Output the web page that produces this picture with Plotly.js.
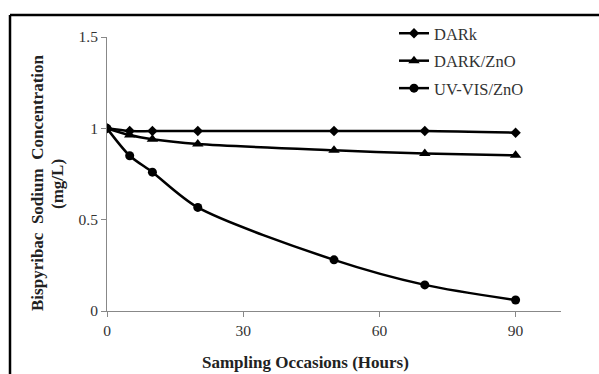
<!DOCTYPE html>
<html>
<head>
<meta charset="utf-8">
<script src="https://cdn.plot.ly/plotly-3.0.1.min.js"></script>
<style>html,body{margin:0;padding:0;background:#fff;}#chart{width:599px;height:374px;}</style>
</head>
<body>
<div id="chart"></div>
<script>
const hours = [0, 5, 10, 20, 50, 70, 90];
const dark = [1.0, 0.985, 0.985, 0.985, 0.985, 0.985, 0.976];
const darkZnO = [1.0, 0.963, 0.94, 0.914, 0.88, 0.862, 0.852];
const uvVisZnO = [1.0, 0.85, 0.76, 0.567, 0.28, 0.143, 0.06];
const seriesNames = ['DARk', 'DARK/ZnO', 'UV-VIS/ZnO'];
const xTicks = [0, 30, 60, 90];
const yTicks = [0, 0.5, 1, 1.5];
const yTickText = ['0', '0.5', '1', '1.5'];
const yTitleLines = ['Bispyribac\u00a0 Sodium\u00a0 Concentration', '(mg/L)'];
const xTitle = 'Sampling Occasions (Hours)';

const serif = '"Liberation Serif", "Times New Roman", serif';
const L = 107, R = 38, T = 37, B = 63, W = 599, H = 374;
const pw = W - L - R, ph = H - T - B;
const px = v => (v - L) / pw;
const py = v => (H - B - v) / ph;

const symbols = ['diamond', 'triangle-up', 'circle'];
const sizes = [8, 10, 9];
const data = [dark, darkZnO, uvVisZnO].map((ys, i) => ({
  x: hours, y: ys, name: seriesNames[i], type: 'scatter', mode: 'lines+markers',
  legendgroup: 'g' + i,
  line: {color: '#000', width: 2.5, shape: 'spline', smoothing: 0.8},
  marker: {symbol: symbols[i], size: sizes[i], color: '#000'}
}));

const titleFont = {family: serif, size: 17, color: '#222'};
const layout = {
  width: W, height: H,
  margin: {l: L, r: R, t: T, b: B},
  paper_bgcolor: '#fff', plot_bgcolor: '#fff',
  font: {family: serif, size: 16, color: '#000'},
  showlegend: true,
  legend: {x: px(394), y: py(16), xanchor: 'left', yanchor: 'top', bgcolor: 'rgba(0,0,0,0)',
           font: {family: serif, size: 16.5, color: '#333'}, traceorder: 'grouped', tracegroupgap: 3},
  xaxis: {range: [0, 100], tickvals: xTicks, ticktext: xTicks.map(String), showgrid: false, zeroline: false,
          showline: true, linecolor: '#888', linewidth: 1, ticks: 'outside', tickcolor: '#888', ticklen: 5,
          tickfont: {family: serif, size: 15.5, color: '#333'}},
  yaxis: {range: [0, 1.5], tickvals: yTicks, ticktext: yTickText, showgrid: false, zeroline: false,
          showline: true, linecolor: '#888', linewidth: 1, ticks: 'outside', tickcolor: '#888', ticklen: 5,
          tickfont: {family: serif, size: 15.5, color: '#333'}},
  annotations: [
    {xref: 'paper', yref: 'paper', x: px(305), y: py(373), xanchor: 'center', yanchor: 'bottom', borderpad: 0,
     text: '<b>' + xTitle + '</b>', showarrow: false, font: titleFont},
    {xref: 'paper', yref: 'paper', x: px(37), y: py(183), xanchor: 'center', yanchor: 'middle', textangle: -90,
     text: '<b>' + yTitleLines[0] + '</b>', showarrow: false, font: titleFont},
    {xref: 'paper', yref: 'paper', x: px(57), y: py(184), xanchor: 'center', yanchor: 'middle', textangle: -90,
     text: '<b>' + yTitleLines[1] + '</b>', showarrow: false, font: titleFont}
  ],
  shapes: [
    {type: 'line', xref: 'paper', yref: 'paper', x0: px(10), x1: px(600), y0: py(15), y1: py(15), line: {color: '#000', width: 2.5}},
    {type: 'line', xref: 'paper', yref: 'paper', x0: px(10), x1: px(10), y0: py(15), y1: py(376), line: {color: '#000', width: 2.5}}
  ]
};
Plotly.newPlot('chart', data, layout, {displayModeBar: false, staticPlot: true});
</script>
</body>
</html>
